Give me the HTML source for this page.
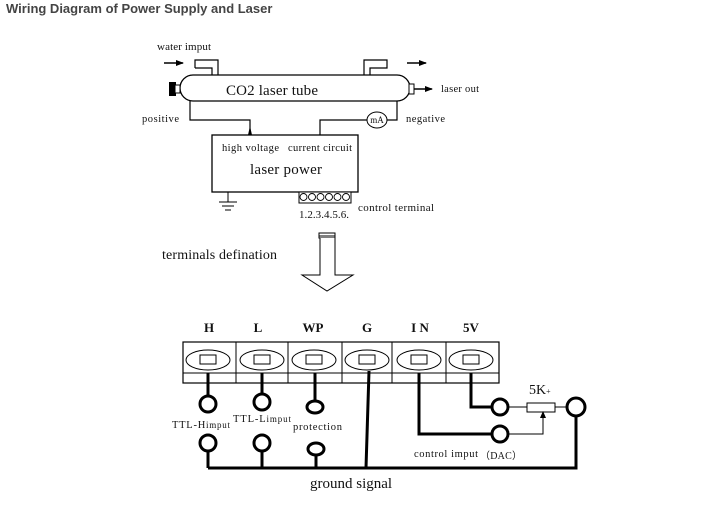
<!DOCTYPE html>
<html><head><style>
html,body{margin:0;padding:0;background:#fff;}
svg{display:block;}
.s{font-family:"Liberation Serif",serif;fill:#111;}
</style></head><body>
<svg width="725" height="522" viewBox="0 0 725 522" xmlns="http://www.w3.org/2000/svg">
<defs>
<marker id="ah" markerWidth="8" markerHeight="8" refX="7" refY="4" orient="auto" markerUnits="userSpaceOnUse"><path d="M0,1 L8,4 L0,7 Z" fill="#000"/></marker>
</defs>
<text x="6" y="13" font-family="Liberation Sans,sans-serif" font-weight="bold" font-size="13" fill="#444">Wiring Diagram of Power Supply and Laser</text>

<text x="157" y="50" class="s" font-size="11" textLength="54">water imput</text>
<line x1="164" y1="63" x2="183" y2="63" stroke="#000" stroke-width="1.5" marker-end="url(#ah)"/>
<line x1="407" y1="63" x2="426" y2="63" stroke="#000" stroke-width="1.5" marker-end="url(#ah)"/>
<path d="M195,68 V60 H218 V75 M212,75 V68 H195" fill="none" stroke="#000" stroke-width="1.2"/>
<path d="M364,75 V60 H387 V68 H370 V75" fill="none" stroke="#000" stroke-width="1.2"/>
<rect x="180" y="75" width="230" height="26" rx="13" fill="#fff" stroke="#000" stroke-width="1.3"/>
<rect x="169" y="82" width="7" height="14" fill="#000"/>
<rect x="175" y="85" width="5" height="8" fill="#fff" stroke="#000"/>
<rect x="409" y="84" width="5" height="10" fill="#fff" stroke="#000"/>
<line x1="414" y1="89" x2="432" y2="89" stroke="#000" stroke-width="1.5" marker-end="url(#ah)"/>
<text x="441" y="92" class="s" font-size="10.5" textLength="38">laser out</text>
<text x="226" y="95" class="s" font-size="15" textLength="92">CO2 laser tube</text>
<text x="142" y="122" class="s" font-size="10.5" textLength="37">positive</text>
<text x="406" y="122" class="s" font-size="10.5" textLength="39">negative</text>
<path d="M190,101 V120 H250 V130" fill="none" stroke="#000" stroke-width="1.2"/>
<path d="M248,135 L250,126 L252,135 Z" fill="#000"/>
<path d="M397,101 V120 H387 M367,120 H320 V135" fill="none" stroke="#000" stroke-width="1.2"/>
<ellipse cx="377" cy="120" rx="10" ry="8" fill="#fff" stroke="#000"/>
<text x="377" y="123" class="s" font-size="9" text-anchor="middle">mA</text>
<rect x="212" y="135" width="146" height="57" fill="#fff" stroke="#000" stroke-width="1.3"/>
<text x="222" y="151" class="s" font-size="10.5" textLength="57">high voltage</text>
<text x="288" y="151" class="s" font-size="10.5" textLength="64">current circuit</text>
<text x="250" y="174" class="s" font-size="15" textLength="72">laser power</text>
<path d="M228,192 V202 M219,202 H237 M222,206 H234 M225,210 H231" stroke="#000" stroke-width="1"/>
<rect x="299" y="192" width="52" height="11" fill="#fff" stroke="#000"/>
<g fill="none" stroke="#000" stroke-width="0.9">
<circle cx="303.5" cy="197" r="3.5"/><circle cx="312" cy="197" r="3.5"/><circle cx="320.5" cy="197" r="3.5"/><circle cx="329" cy="197" r="3.5"/><circle cx="337.5" cy="197" r="3.5"/><circle cx="346" cy="197" r="3.5"/>
</g>
<text x="299" y="218" class="s" font-size="11" textLength="50">1.2.3.4.5.6.</text>
<text x="358" y="211" class="s" font-size="11" textLength="76">control terminal</text>

<text x="162" y="259" class="s" font-size="14" textLength="115">terminals defination</text>
<rect x="319" y="233" width="16" height="5" fill="#fff" stroke="#000"/>
<line x1="319" y1="236" x2="335" y2="236" stroke="#000"/>
<path d="M320,238 V275 H302 L327,291 L353,275 H335 V238" fill="#fff" stroke="#000" stroke-width="1"/>

<g class="s" font-size="13" font-weight="bold" text-anchor="middle">
<text x="209" y="332">H</text><text x="258" y="332">L</text><text x="313" y="332">WP</text><text x="367" y="332">G</text><text x="420" y="332">I N</text><text x="471" y="332">5V</text>
</g>
<rect x="183" y="342" width="316" height="41" fill="#fff" stroke="#000" stroke-width="1.2"/>
<line x1="183" y1="373" x2="499" y2="373" stroke="#000"/>
<g stroke="#000"><line x1="236" y1="342" x2="236" y2="383"/><line x1="288" y1="342" x2="288" y2="383"/><line x1="342" y1="342" x2="342" y2="383"/><line x1="392" y1="342" x2="392" y2="383"/><line x1="446" y1="342" x2="446" y2="383"/></g>
<g fill="none" stroke="#000">
<ellipse cx="208" cy="360" rx="22" ry="10"/><rect x="200" y="355" width="16" height="9"/>
<ellipse cx="262" cy="360" rx="22" ry="10"/><rect x="254" y="355" width="16" height="9"/>
<ellipse cx="314" cy="360" rx="22" ry="10"/><rect x="306" y="355" width="16" height="9"/>
<ellipse cx="367" cy="360" rx="22" ry="10"/><rect x="359" y="355" width="16" height="9"/>
<ellipse cx="419" cy="360" rx="22" ry="10"/><rect x="411" y="355" width="16" height="9"/>
<ellipse cx="471" cy="360" rx="22" ry="10"/><rect x="463" y="355" width="16" height="9"/>
</g>
<g fill="none" stroke="#000" stroke-width="3">
<line x1="208" y1="373" x2="208" y2="396"/><circle cx="208" cy="404" r="8"/>
<line x1="262" y1="373" x2="262" y2="394"/><circle cx="262" cy="402" r="8"/>
<line x1="315" y1="373" x2="315" y2="401"/><ellipse cx="315" cy="407" rx="8" ry="6"/>
<circle cx="208" cy="443" r="8"/><line x1="208" y1="451" x2="208" y2="468"/>
<circle cx="262" cy="443" r="8"/><line x1="262" y1="451" x2="262" y2="468"/>
<ellipse cx="316" cy="449" rx="8" ry="6"/><line x1="316" y1="455" x2="316" y2="468"/>
<path d="M208,468 H576 V416"/>
<path d="M369,371 L366,468"/>
<path d="M419,373 V434 H492"/><circle cx="500" cy="434" r="8"/>
<path d="M471,373 V407 H492"/><circle cx="500" cy="407" r="8"/>
<circle cx="576" cy="407" r="9"/>
</g>
<g fill="none" stroke="#000" stroke-width="1">
<line x1="508" y1="407" x2="527" y2="407"/>
<rect x="527" y="403" width="28" height="9"/>
<line x1="555" y1="407" x2="567" y2="407"/>
<path d="M508,434 H543 V415"/>
</g>
<path d="M540,418 L543,411 L546,418 Z" fill="#000"/>
<text x="529" y="394" class="s" font-size="14">5K<tspan font-size="8">+</tspan></text>
<text x="172" y="428" class="s" font-size="10.5" textLength="58">TTL-H<tspan font-size="9">imput</tspan></text>
<text x="233" y="422" class="s" font-size="10.5" textLength="58">TTL-L<tspan font-size="9">imput</tspan></text>
<text x="293" y="430" class="s" font-size="10.5" textLength="49">protection</text>
<text x="414" y="457" class="s" font-size="10.5" textLength="64">control imput</text>
<text x="480" y="459" font-family="Liberation Serif,'Noto Sans CJK SC',serif" font-size="10" fill="#111" textLength="42">（DAC）</text>
<text x="310" y="488" class="s" font-size="15">ground signal</text>
</svg>
</body></html>
